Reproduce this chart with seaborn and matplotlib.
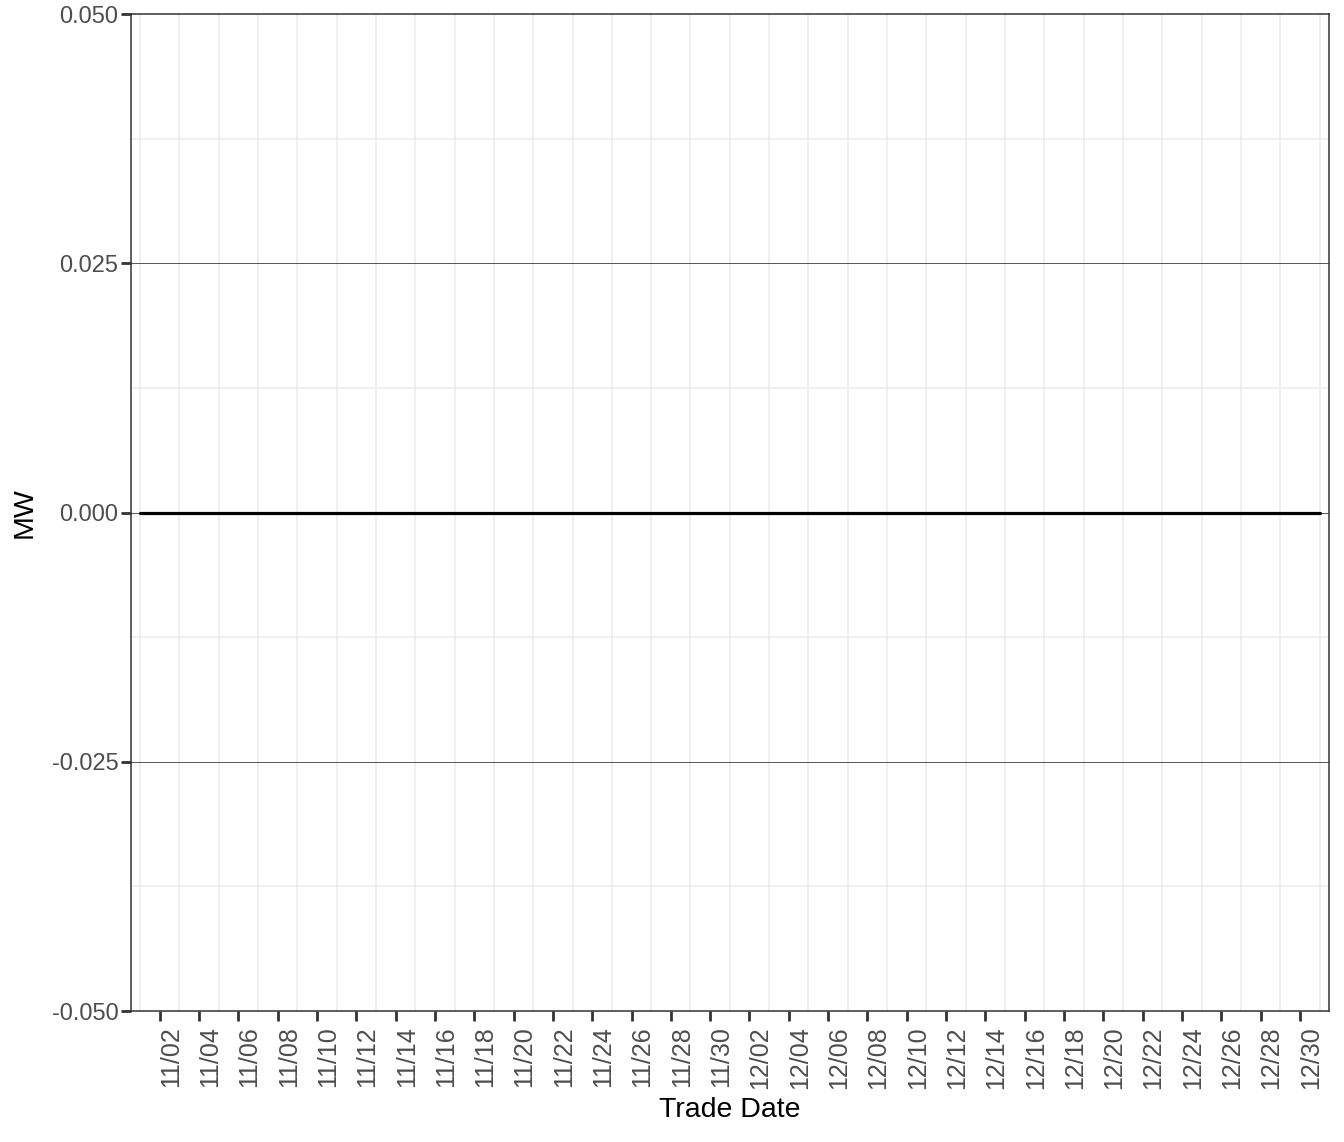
import pandas as pd
import numpy as np
import matplotlib
matplotlib.use("Agg")
import matplotlib.pyplot as plt
import matplotlib.dates as mdates
import matplotlib.transforms as mtransforms
import seaborn as sns

sns.set_style("white")
plt.rcParams["font.family"] = ["Liberation Sans", "DejaVu Sans"]

# Trade dates (Nov 1 - Dec 31) and MW values, all flat at zero
trade_dates = pd.date_range("2023-11-01", "2023-12-31", freq="D")
mw_values = [0.0, 0.0, 0.0, 0.0, 0.0, 0.0, 0.0, 0.0, 0.0, 0.0,
             0.0, 0.0, 0.0, 0.0, 0.0, 0.0, 0.0, 0.0, 0.0, 0.0,
             0.0, 0.0, 0.0, 0.0, 0.0, 0.0, 0.0, 0.0, 0.0, 0.0,
             0.0, 0.0, 0.0, 0.0, 0.0, 0.0, 0.0, 0.0, 0.0, 0.0,
             0.0, 0.0, 0.0, 0.0, 0.0, 0.0, 0.0, 0.0, 0.0, 0.0,
             0.0, 0.0, 0.0, 0.0, 0.0, 0.0, 0.0, 0.0, 0.0, 0.0,
             0.0]
y_ticks = [-0.050, -0.025, 0.000, 0.025, 0.050]
ref_lines = [-0.025, 0.0, 0.025]

df = pd.DataFrame({"date": trade_dates, "mw": mw_values})

fig = plt.figure(figsize=(13.44, 11.42), dpi=100)
ax = fig.add_axes([0.0975, 0.1147, 0.8913, 0.8730])

# light grid: vertical on odd days, horizontal minor between labelled ticks
for d in trade_dates[::2]:
    ax.axvline(d, color="#EBEBEB", lw=1.1, zorder=0)
for y in [-0.0375, -0.0125, 0.0125, 0.0375]:
    ax.axhline(y, color="#EBEBEB", lw=1.1, zorder=0)
for y in ref_lines:
    ax.axhline(y, color="#555555", lw=0.7, zorder=1)

sns.lineplot(data=df, x="date", y="mw", color="black", lw=2.3, ax=ax, zorder=3)

x0 = mdates.date2num(trade_dates[0]) - 0.46
x1 = mdates.date2num(trade_dates[-1]) + 0.48
ax.set_xlim(x0, x1)
ax.set_ylim(-0.05, 0.05)

ax.set_xticks(trade_dates[1::2])
ax.xaxis.set_major_formatter(mdates.DateFormatter("%m/%d"))
ax.set_yticks(y_ticks)
ax.set_yticklabels([f"{v:.3f}" for v in y_ticks])
ax.tick_params(axis="x", labelrotation=90, labelsize=18, pad=4)
ax.tick_params(axis="y", labelsize=17, pad=2)
ax.tick_params(axis="both", bottom=True, left=True, direction="out",
               length=7, width=2, color="#333333", labelcolor="#4D4D4D")

# rotated labels sit just right of their tick, like ggplot's default
shift = mtransforms.ScaledTranslation(0.11, 0, fig.dpi_scale_trans)
for lab in ax.get_xticklabels():
    lab.set_transform(lab.get_transform() + shift)

for s in ax.spines.values():
    s.set_color("#333333")
    s.set_linewidth(1.1)

ax.set_xlabel("Trade Date", fontsize=20.5, color="black", labelpad=6)
ax.set_ylabel("MW", fontsize=20.5, color="black", labelpad=10)

fig.savefig("out.png", dpi=100)
